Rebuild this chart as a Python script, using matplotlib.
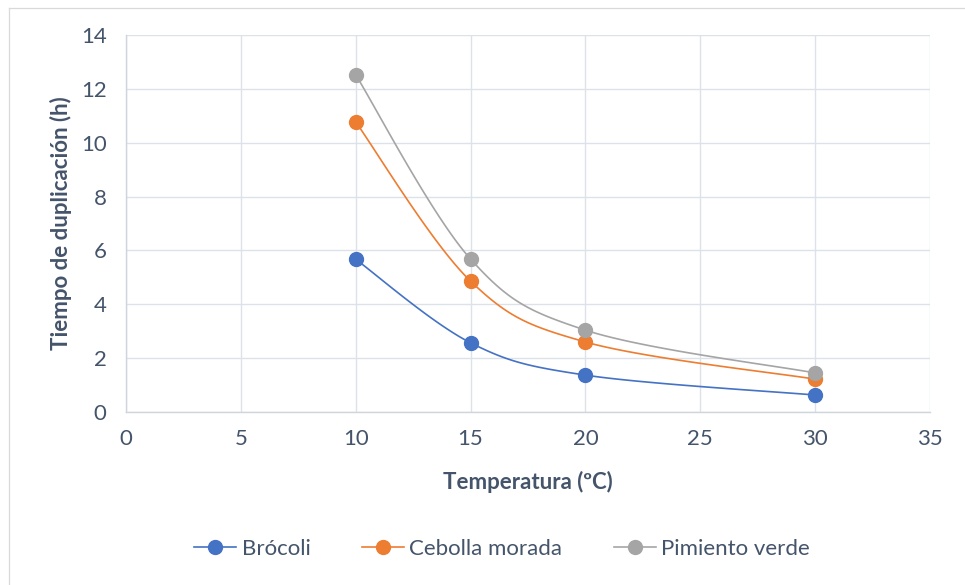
import numpy as np
import matplotlib

matplotlib.use("Agg")
import matplotlib.pyplot as plt
from matplotlib.lines import Line2D

temperatures = [10, 15, 20, 30]
brocoli = [5.67, 2.57, 1.37, 0.63]
cebolla_morada = [10.77, 4.86, 2.60, 1.22]
pimiento_verde = [12.52, 5.68, 3.04, 1.45]

series_names = ["Brócoli", "Cebolla morada", "Pimiento verde"]
series_colors = ["#4472C4", "#ED7D31", "#A5A5A5"]

x_ticks = [0, 5, 10, 15, 20, 25, 30, 35]
y_ticks = [0, 2, 4, 6, 8, 10, 12, 14]

plt.rcParams["font.family"] = ["Lato", "DejaVu Sans"]
text_color = "#44546A"


def smooth_curve(xs, ys, steps=40):
    # Catmull-Rom style bezier through each point, like spreadsheet smoothed lines
    pts = np.column_stack([xs, ys]).astype(float)
    padded = np.vstack([pts[0], pts, pts[-1]])
    out = []
    for i in range(len(pts) - 1):
        p0, p1, p2, p3 = padded[i], padded[i + 1], padded[i + 2], padded[i + 3]
        c1 = p1 + (p2 - p0) / 6.0
        c2 = p2 - (p3 - p1) / 6.0
        t = np.linspace(0, 1, steps)[:, None]
        seg = ((1 - t) ** 3) * p1 + 3 * ((1 - t) ** 2) * t * c1 + 3 * (1 - t) * t ** 2 * c2 + t ** 3 * p2
        out.append(seg if i == 0 else seg[1:])
    curve = np.vstack(out)
    return curve[:, 0], curve[:, 1]


fig = plt.figure(figsize=(9.65, 5.85), dpi=100)
ax = fig.add_axes([126 / 965, 1 - 412 / 585, (930 - 126) / 965, (412 - 35) / 585])

# chart-area frame: only the left and top edges fall inside the image
frame_x = 8.5 / 965
frame_y = 1 - 7.5 / 585
fig.lines.append(Line2D([frame_x, frame_x], [0, frame_y], transform=fig.transFigure,
                        color="#D9D9D9", linewidth=0.9))
fig.lines.append(Line2D([frame_x, 1], [frame_y, frame_y], transform=fig.transFigure,
                        color="#D9D9D9", linewidth=0.9))

for name, values, color in zip(series_names, [brocoli, cebolla_morada, pimiento_verde], series_colors):
    sx, sy = smooth_curve(temperatures, values)
    ax.plot(sx, sy, color=color, linewidth=1.2, zorder=3)
    ax.plot(temperatures, values, linestyle="none", marker="o", markersize=10,
            color=color, zorder=4)
    ax.plot([], [], color=color, linewidth=1.2, marker="o", markersize=10, label=name)

ax.set_xlim(0, 35)
ax.set_ylim(0, 14)
ax.set_xticks(x_ticks)
ax.set_yticks(y_ticks)
ax.grid(True, color="#DDE1E8", linewidth=1.0, zorder=0)
ax.set_axisbelow(True)
for side in ("top", "right"):
    ax.spines[side].set_visible(False)
for side in ("left", "bottom"):
    ax.spines[side].set_color("#D0D4DC")
    ax.spines[side].set_linewidth(1.0)
ax.tick_params(axis="x", length=0, labelsize=16, labelcolor=text_color, pad=12)
ax.tick_params(axis="y", length=0, labelsize=16, labelcolor=text_color, pad=14)

ax.set_xlabel("Temperatura (ºC)", fontsize=16, fontweight="bold", color=text_color, labelpad=16)
ax.set_ylabel("Tiempo de duplicación (h)", fontsize=16, fontweight="bold", color=text_color, labelpad=6)

fig.legend(loc="center", bbox_to_anchor=(502 / 965, 1 - 549 / 585), ncol=3, frameon=False,
           fontsize=16, labelcolor=text_color, handlelength=1.9, columnspacing=2.3,
           handletextpad=0.25)

fig.savefig("out.png", dpi=100)
